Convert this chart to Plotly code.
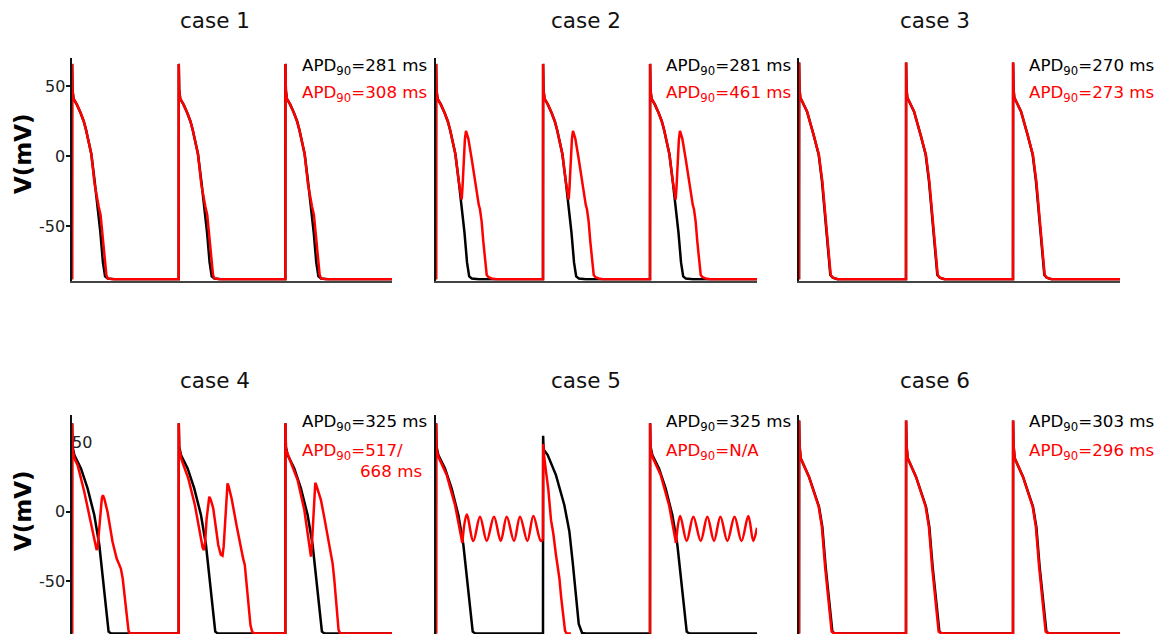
import plotly.graph_objects as go

W, H = 1161, 634
BCL = 1000  # ms between stimuli

# ---------------- data (t in ms from stimulus, V in mV) ----------------
black281_t = [0, 1, 5, 15, 45, 80, 110, 131, 160, 181, 212, 240, 266, 290, 310, 335, 400]
black281_v = [-88, 66, 47, 41, 37, 31, 25, 19, 10, 1.5, -17.5, -34.5, -54.5, -76, -86, -87.5, -88]

red308_t = [0, 1, 5, 15, 45, 80, 110, 131, 160, 181, 212, 232, 250, 268, 280, 292, 309, 322, 335, 380]
red308_v = [-88, 66, 47, 41, 37, 31, 25, 19, 10, 1.5, -20, -30, -36, -42, -52, -64, -77, -85, -87.5, -88]

red461_t = [0, 1, 5, 15, 45, 80, 110, 131, 160, 181, 212, 228, 240, 248, 258, 270, 280, 302, 333,
            365, 386, 400, 411, 427, 442, 458, 474, 489, 520, 560]
red461_v = [-88, 66, 47, 41, 37, 31, 25, 19, 10, 1.5, -17.5, -26, -31, -22, -4, 12, 18, 12.6, -1.7,
            -18, -31, -35, -38, -47, -61, -75.5, -85, -86.5, -87.5, -88]

black270_t = [0, 1, 5, 12, 75, 137, 184, 215, 246, 271, 293, 315, 360]
black270_v = [-88, 67, 48, 42, 32, 15, 1, -18, -47, -71, -85, -87, -88]
red273_t = [0, 1, 5, 12, 75, 137, 186, 218, 249, 274, 296, 318, 360]
red273_v = [-88, 67, 48, 42, 32, 15, 1, -18, -47, -71, -85, -87, -88]

black303_t = [0, 1, 5, 16, 93, 187, 218, 249, 280, 312, 330, 370]
black303_v = [-88, 66, 48, 38.7, 25.4, 3.7, -10.8, -39.7, -63.7, -86.6, -87.6, -88]
red296_t = [0, 1, 5, 16, 93, 184, 214, 244, 274, 305, 325, 370]
red296_v = [-88, 66, 48, 38.7, 25.4, 3.7, -10.8, -39.7, -63.7, -86.6, -87.6, -88]

black325_t = [0, 1, 5, 22, 84, 146, 209, 256, 287, 318, 343, 365, 400]
black325_v = [-88, 64, 47, 41, 31.4, 17, -2.3, -24, -48, -72, -86.6, -87.8, -88]

red4_b1_t = [0, 1, 6, 22, 53, 115, 178, 215, 231, 240, 249, 265, 280, 290, 305, 333, 380, 418,
             440, 458, 475, 489, 514, 530, 545, 580]
red4_b1_v = [-88, 64, 45, 38.7, 33.8, 14.5, -7.2, -22, -27.6, -26, -19, -2, 10, 12, 9, 0, -21.6, -33.6,
             -38, -41, -48, -57.7, -77, -86, -87.8, -88]
red4_b2_t = [0, 1, 6, 28, 90, 152, 199, 225, 237, 248, 262, 278, 287, 300, 324, 350, 371, 395, 411,
             422, 435, 448, 458, 470, 496, 542, 589, 605, 620, 636, 652, 673, 690, 720]
red4_b2_v = [-88, 64, 45, 37.4, 24.2, 4.9, -16.8, -26, -27.6, -22, -5, 9, 10.9, 9, 2.5, -12, -24, -31, -31.7,
             -25, -5, 15, 20.6, 18, 9.8, -9.5, -28.8, -34, -38.4, -50, -62.5, -81.8, -87, -88]
red4_b3_t = [0, 1, 6, 37, 115, 178, 215, 232, 240, 248, 260, 272, 281, 292, 334, 365, 396, 420,
             443, 458, 474, 490, 499, 515, 550]
red4_b3_v = [-88, 64, 45, 38.7, 23, 1.3, -20, -30, -32.4, -25, -5, 14, 21, 19, 8.5, -4, -18, -28,
             -37.2, -48, -63.7, -78, -85.4, -87.8, -88]

black325b_t = [0, 1, 6, 44, 121, 199, 246, 277, 308, 334, 365, 400]
black325b_v = [-88, 55, 45, 41, 26.6, 5, -14, -36, -62, -81, -87.5, -88]

red5_b1_up_t = [0, 1, 6, 22, 100, 178, 215, 246]
red5_b1_up_v = [-88, 64, 45, 39.8, 26.6, 4.9, -10, -22.5]
red5_osc1_t = [246, 287, 349, 411, 474, 542, 605, 661, 729, 785, 854, 910, 979, 1000]
red5_osc1_v = [-22.5, -2, -21, -3.5, -21, -3.5, -21, -3.5, -21, -3.5, -21, -3, -21, -20]
red5_b2_t = [0, 2, 8, 28, 50, 75, 96, 121, 140, 153, 170, 190, 206, 220, 260]
red5_b2_v = [-20, 49, 42, 29, 16, -6, -15.5, -31, -40, -48, -62, -76, -86, -87.8, -88]
red5_b3_up_t = [0, 1, 6, 22, 100, 178, 215, 243]
red5_b3_up_v = [-88, 64, 45, 39.8, 26.6, 4.9, -10, -22.5]
red5_osc3_t = [243, 282, 343, 405, 474, 536, 598, 658, 723, 790, 855, 919, 965, 1000]
red5_osc3_v = [-22.5, -3, -21, -3.5, -21, -3.5, -21, -3.5, -21, -3.5, -21, -3, -21, -11.5]

REST = -88
titles = ["case 1", "case 2", "case 3", "case 4", "case 5", "case 6"]
apd_black = ["281 ms", "281 ms", "270 ms", "325 ms", "325 ms", "303 ms"]
apd_red = ["308 ms", "461 ms", "273 ms", "517/", "N/A", "296 ms"]
apd_red_line2 = "668 ms"
yticks_top = [-50, 0, 50]
yticks_bottom = [-50, 0]

# ---------------- helpers ----------------
def beats(profiles, close=True):
    xs, ys = [], []
    for k, (t, v) in enumerate(profiles):
        xs += [k * BCL + ti for ti in t]
        ys += list(v)
    if close:
        xs.append(3 * BCL)
        ys.append(REST)
    return xs, ys

def pieces(segs):
    xs, ys = [], []
    for off, t, v in segs:
        xs += [off + ti for ti in t] + [None]
        ys += list(v) + [None]
    return xs, ys

panels = [
    [("black", beats([(black281_t, black281_v)] * 3), "linear"),
     ("red", beats([(red308_t, red308_v)] * 3), "linear")],
    [("black", beats([(black281_t, black281_v)] * 3), "linear"),
     ("red", beats([(red461_t, red461_v)] * 3), "linear")],
    [("black", beats([(black270_t, black270_v)] * 3), "linear"),
     ("red", beats([(red273_t, red273_v)] * 3), "linear")],
    [("black", beats([(black325_t, black325_v)] * 3), "linear"),
     ("red", beats([(red4_b1_t, red4_b1_v), (red4_b2_t, red4_b2_v), (red4_b3_t, red4_b3_v)]), "linear")],
    [("black", beats([(black325_t, black325_v), (black325b_t, black325b_v), (black325_t, black325_v)]), "linear"),
     ("red", pieces([(0, red5_b1_up_t, red5_b1_up_v), (BCL, red5_b2_t, red5_b2_v),
                     (2 * BCL, red5_b3_up_t, red5_b3_up_v)]), "linear"),
     ("red", pieces([(0, red5_osc1_t, red5_osc1_v), (2 * BCL, red5_osc3_t, red5_osc3_v)]), "spline")],
    [("black", beats([(black303_t, black303_v)] * 3), "linear"),
     ("red", beats([(red296_t, red296_v)] * 3), "linear")],
]

# ---------------- layout geometry (pixels) ----------------
col_px = [(72, 392), (436, 757), (799, 1120)]
row_px = [(58.3, 280.7), (415, 634)]
row_range = [[-89.1, 70], [-88.3, 70]]
FONT = "DejaVu Sans"

fig = go.Figure()
layout = dict(width=W, height=H, margin=dict(l=0, r=0, t=0, b=0),
              paper_bgcolor="white", plot_bgcolor="white", showlegend=False,
              font=dict(family=FONT, color="#222"))
annotations = []

for i, traces in enumerate(panels):
    r, c = divmod(i, 3)
    n = i + 1
    xa = "x" if n == 1 else f"x{n}"
    ya = "y" if n == 1 else f"y{n}"
    for color, (xs, ys), shape in traces:
        fig.add_trace(go.Scatter(x=xs, y=ys, mode="lines", xaxis=xa, yaxis=ya,
                                 line=dict(color="#ff0000" if color == "red" else "#000000",
                                           width=2.5, shape=shape, smoothing=1),
                                 connectgaps=False, hoverinfo="skip"))
    x0, x1 = col_px[c]
    y0, y1 = row_px[r]
    layout[f"xaxis{n if n > 1 else ''}"] = dict(
        domain=[x0 / W, x1 / W], range=[0, 3 * BCL], anchor=ya,
        showline=(r == 0), linecolor="#444", linewidth=1.5, layer="below traces",
        showticklabels=False, ticks="", showgrid=False, zeroline=False)
    ydict = dict(
        domain=[1 - y1 / H, 1 - y0 / H], range=row_range[r], anchor=xa,
        showline=True, linecolor="#111", linewidth=1.5, layer="below traces",
        showgrid=False, zeroline=False, showticklabels=False)
    if c == 0:
        tv = yticks_top if r == 0 else yticks_bottom
        ydict.update(ticks="outside", ticklen=4, tickwidth=1.5, tickcolor="#111", tickvals=tv)
        # tick labels placed close to the axis, at the tick values
        for v in tv:
            annotations.append(dict(text=str(v), x=67 / W, y=v, xref="paper", yref=ya,
                                    xanchor="right", yanchor="middle", showarrow=False,
                                    font=dict(size=16, family=FONT, color="#222")))
    else:
        ydict.update(ticks="")
    layout[f"yaxis{n if n > 1 else ''}"] = ydict

    # titles
    tx = [215, 586, 935][c]
    ty = [20, 380][r]
    annotations.append(dict(text=titles[i], x=tx / W, y=1 - ty / H, xref="paper", yref="paper",
                            xanchor="center", yanchor="middle", showarrow=False,
                            font=dict(size=21.5, family=FONT, color="#111")))
    # APD labels
    lx = x0 + 228
    by = [66, 422][r]
    ry = [94, 451][r]
    annotations.append(dict(text="APD<sub>90</sub>=" + apd_black[i], x=lx / W, y=1 - by / H,
                            xref="paper", yref="paper", xanchor="left", yanchor="middle",
                            showarrow=False, font=dict(size=16.7, family=FONT, color="#000")))
    annotations.append(dict(text="APD<sub>90</sub>=" + apd_red[i], x=lx / W, y=1 - ry / H,
                            xref="paper", yref="paper", xanchor="left", yanchor="middle",
                            showarrow=False, font=dict(size=16.7, family=FONT, color="#ff0000")))

annotations.append(dict(text=apd_red_line2, x=424 / W, y=1 - 471 / H, xref="paper", yref="paper",
                        xanchor="right", yanchor="middle", showarrow=False,
                        font=dict(size=16.7, family=FONT, color="#ff0000")))
# y-axis titles
for cy in [154, 511]:
    annotations.append(dict(text="<b>V(mV)</b>", x=23 / W, y=1 - cy / H, xref="paper", yref="paper",
                            xanchor="center", yanchor="middle", textangle=-90, showarrow=False,
                            font=dict(size=23, family=FONT, color="#000")))
# stray "50" label inside bottom-left panel
annotations.append(dict(text="50", x=70 / W, y=1 - 442.5 / H, xref="paper", yref="paper",
                        xanchor="left", yanchor="middle", showarrow=False,
                        font=dict(size=16, family=FONT, color="#222")))

layout["annotations"] = annotations
fig.update_layout(**layout)
fig.write_html("out.html")
